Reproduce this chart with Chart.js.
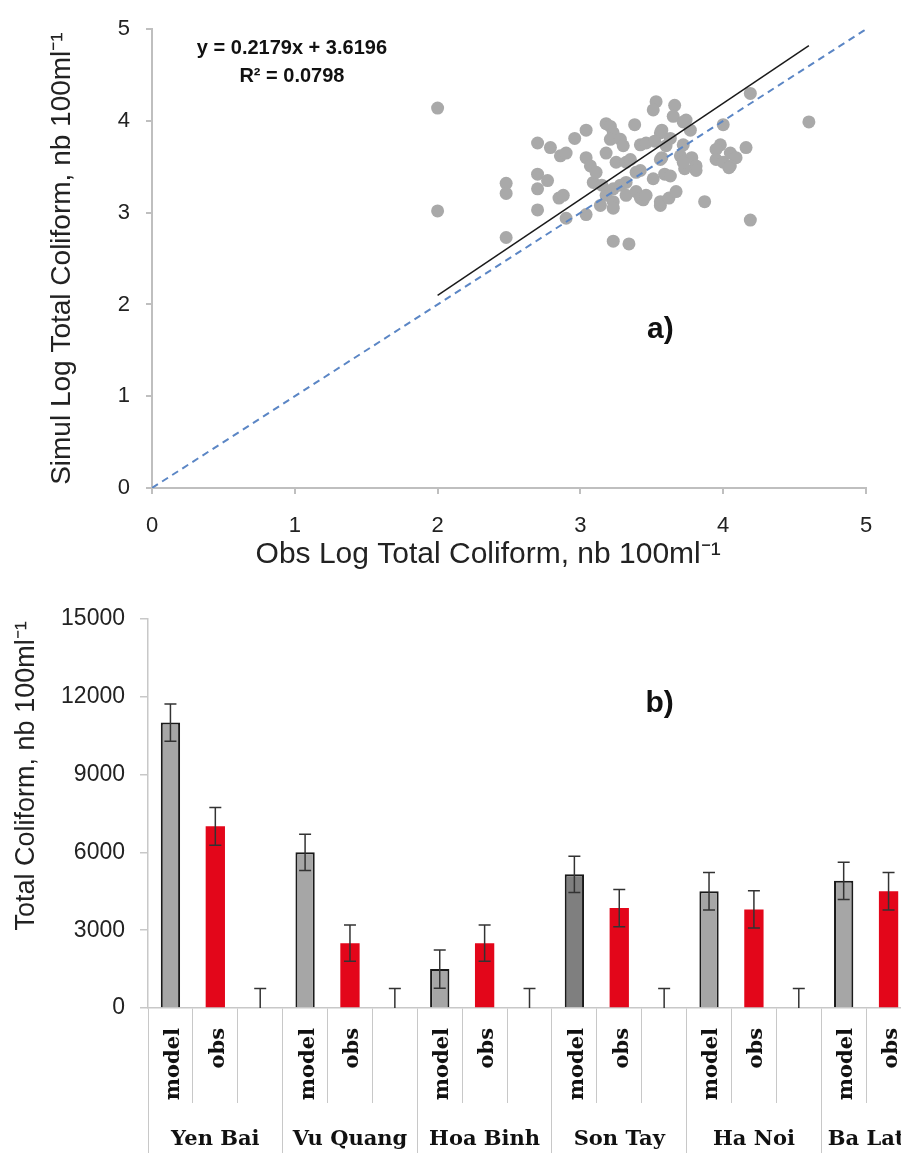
<!DOCTYPE html>
<html>
<head>
<meta charset="utf-8">
<script src="https://cdn.jsdelivr.net/npm/chart.js@4"></script>
<style>
  html, body { margin: 0; padding: 0; background: #fff; overflow: hidden; }
  #top { position: absolute; left: 0; top: 0; width: 901px; height: 596px; }
  #bottom { position: absolute; left: 0; top: 590px; width: 925px; height: 563px; }
</style>
</head>
<body>
<div id="top"><canvas id="scatterChart"></canvas></div>
<div id="bottom"><canvas id="barChart"></canvas></div>
<script>
// a) observed vs simulated log total coliform
var obsLog = [
  2.00, 2.00, 2.48, 2.48, 2.48, 2.70, 2.79, 2.86, 2.90, 2.70,
  2.70, 2.77, 2.70, 2.85, 2.90, 2.88, 2.96, 3.04, 3.04, 3.07,
  3.09, 3.11, 3.18, 3.21, 3.23, 3.18, 3.21, 3.28, 3.30, 3.25,
  3.32, 3.18, 3.23, 3.15, 3.23, 3.04, 3.14, 3.23, 3.23, 3.34,
  3.28, 3.32, 3.53, 3.66, 3.51, 3.65, 3.38, 3.74, 3.57, 3.77,
  3.72, 3.56, 4.19, 4.00, 4.60, 3.42, 3.46, 3.52, 3.60, 3.63,
  3.72, 3.70, 3.78, 3.81, 3.81, 3.73, 3.72, 3.57, 3.56, 3.59,
  3.63, 3.51, 3.42, 3.39, 3.35, 3.32, 3.39, 3.44, 3.42, 3.46,
  3.56, 3.56, 3.62, 3.67, 3.87, 4.19, 3.98, 3.95, 3.95, 4.00,
  4.05, 4.09, 4.05, 4.04, 4.16
];
var simLog = [
  4.14, 3.02, 2.73, 3.32, 3.21, 3.76, 3.71, 3.62, 3.65, 3.42,
  3.26, 3.35, 3.03, 3.16, 2.94, 3.19, 3.81, 3.90, 3.60, 3.51,
  3.33, 3.44, 3.97, 3.94, 3.87, 3.65, 3.80, 3.80, 3.73, 3.55,
  3.55, 3.19, 3.12, 3.30, 3.26, 2.98, 3.08, 3.05, 2.69, 2.66,
  3.30, 3.19, 4.21, 4.17, 4.12, 4.05, 3.96, 4.01, 3.90, 3.90,
  3.99, 3.87, 4.30, 3.96, 3.99, 3.74, 3.76, 3.78, 3.73, 3.81,
  3.74, 3.62, 3.60, 3.51, 3.46, 3.48, 3.55, 3.60, 3.58, 3.42,
  3.40, 3.37, 3.46, 3.44, 3.58, 3.33, 3.23, 3.14, 3.16, 3.19,
  3.08, 3.12, 3.16, 3.23, 3.12, 2.92, 3.74, 3.69, 3.58, 3.55,
  3.65, 3.60, 3.51, 3.49, 3.71
];
var trendX = [2.0, 4.6];
var trendY = [2.1, 4.82];
var oneToOne = [0, 5];

// b) mean total coliform per station
var sites = ["Yen Bai", "Vu Quang", "Hoa Binh", "Son Tay", "Ha Noi", "Ba Lat"];
var modelVals = [11000, 6000, 1500, 5150, 4500, 4900];
var modelErr = [720, 700, 740, 700, 720, 720];
var obsVals = [7000, 2500, 2500, 3850, 3800, 4500];
var obsErr = [730, 700, 700, 720, 720, 720];
var blankErr = [750, 750, 750, 750, 750];
var modelColors = ["#a6a6a6", "#a6a6a6", "#a6a6a6", "#7f7f7f", "#a6a6a6", "#a6a6a6"];

Chart.defaults.font.family = "'Liberation Sans', Arial, sans-serif";
Chart.defaults.color = "#222";
Chart.defaults.animation = false;

// text labels placed in data coordinates
var notes = {
  id: "notes",
  afterDraw(chart, args, opts) {
    var ctx = chart.ctx;
    var xs = chart.scales.x;
    var ys = chart.scales.y;
    ctx.save();
    ctx.fillStyle = "#111";
    ctx.textAlign = "center";
    ctx.textBaseline = "middle";
    (opts.items || []).forEach(function (it) {
      ctx.font = it.font;
      ctx.fillText(it.text, xs.getPixelForValue(it.x), ys.getPixelForValue(it.y));
    });
    ctx.restore();
  }
};

var errorBars = {
  id: "errorBars",
  afterDatasetsDraw(chart) {
    var ctx = chart.ctx, y = chart.scales.y, area = chart.chartArea;
    ctx.save();
    ctx.beginPath();
    ctx.rect(area.left, area.top - 2, area.right - area.left, area.bottom - area.top + 2);
    ctx.clip();
    ctx.strokeStyle = "#333";
    ctx.lineWidth = 1.5;
    chart.data.datasets.forEach(function (ds, i) {
      if (!ds.errors) return;
      chart.getDatasetMeta(i).data.forEach(function (bar, j) {
        var v = ds.data[j], e = ds.errors[j];
        if (v == null || e == null) return;
        var top = y.getPixelForValue(v + e);
        var bot = y.getPixelForValue(v - e);
        ctx.beginPath();
        ctx.moveTo(bar.x, top); ctx.lineTo(bar.x, bot);
        ctx.moveTo(bar.x - 6, top); ctx.lineTo(bar.x + 6, top);
        ctx.moveTo(bar.x - 6, bot); ctx.lineTo(bar.x + 6, bot);
        ctx.stroke();
      });
    });
    ctx.restore();
  }
};

var points = obsLog.map(function (x, i) { return { x: x, y: simLog[i] }; });

new Chart("scatterChart", {
  type: "scatter",
  data: {
    datasets: [
      {
        type: "line",
        data: [{ x: trendX[0], y: trendY[0] }, { x: trendX[1], y: trendY[1] }],
        borderColor: "#1a1a1a",
        borderWidth: 1.5,
        pointRadius: 0,
        fill: false
      },
      {
        type: "line",
        data: [{ x: oneToOne[0], y: oneToOne[0] }, { x: oneToOne[1], y: oneToOne[1] }],
        borderColor: "#5b86c5",
        borderWidth: 2,
        borderDash: [7, 5],
        pointRadius: 0,
        fill: false
      },
      {
        data: points,
        backgroundColor: "#a9a9a9",
        borderWidth: 0,
        pointRadius: 6.5
      }
    ]
  },
  options: {
    responsive: true,
    maintainAspectRatio: false,
    layout: { padding: { top: 21, right: 35, bottom: 0, left: 0 } },
    plugins: {
      legend: { display: false },
      tooltip: { enabled: false },
      notes: {
        items: [
          { x: 0.98, y: 4.79, text: "y = 0.2179x + 3.6196", font: "bold 20px 'Liberation Sans', Arial" },
          { x: 0.98, y: 4.49, text: "R² = 0.0798", font: "bold 20px 'Liberation Sans', Arial" },
          { x: 3.56, y: 1.72, text: "a)", font: "bold 30px 'Liberation Sans', Arial" }
        ]
      }
    },
    scales: {
      x: {
        type: "linear",
        min: 0,
        max: 5,
        afterFit: function (s) { s.height = 108; },
        ticks: { stepSize: 1, font: { size: 22 }, padding: 19 },
        grid: { drawOnChartArea: false, tickLength: 6, color: "#bfbfbf", lineWidth: 2 },
        border: { color: "#bfbfbf", width: 2 },
        title: {
          display: true,
          // trailing spaces nudge the centred title left as in the original
          text: "Obs Log Total Coliform, nb 100ml⁻¹     ",
          font: { size: 30 },
          padding: { top: 0, bottom: 23 }
        }
      },
      y: {
        min: 0,
        max: 5,
        afterFit: function (s) { s.width = 152; },
        ticks: { stepSize: 1, font: { size: 22 }, padding: 16 },
        grid: { drawOnChartArea: false, tickLength: 6, color: "#bfbfbf", lineWidth: 2 },
        border: { color: "#bfbfbf", width: 2 },
        title: {
          display: true,
          text: "Simul Log Total Coliform, nb 100ml⁻¹",
          font: { size: 28 },
          padding: { top: 45, bottom: 0 }
        }
      }
    }
  },
  plugins: [notes]
});

// slot layout: model, obs, empty per station (last station has no empty slot)
var slotLabels = [], modelData = [], obsData = [], blankData = [];
var modelErrData = [], obsErrData = [], blankErrData = [], barColors = [];
var groupCenters = {}, groupEdges = [-0.5];
sites.forEach(function (s, i) {
  var start = slotLabels.length;
  slotLabels.push("model", "obs");
  modelData.push(modelVals[i], null);
  modelErrData.push(modelErr[i], null);
  obsData.push(null, obsVals[i]);
  obsErrData.push(null, obsErr[i]);
  blankData.push(null, null);
  blankErrData.push(null, null);
  barColors.push(modelColors[i], modelColors[i]);
  if (i < sites.length - 1) {
    slotLabels.push("");
    modelData.push(null); modelErrData.push(null);
    obsData.push(null); obsErrData.push(null);
    blankData.push(0); blankErrData.push(blankErr[i]);
    barColors.push(modelColors[i]);
  }
  var end = slotLabels.length - 1;
  groupCenters[(start + end) / 2] = s;
  groupEdges.push(end + 0.5);
});

new Chart("barChart", {
  type: "bar",
  data: {
    labels: slotLabels,
    datasets: [
      {
        data: modelData,
        errors: modelErrData,
        backgroundColor: barColors,
        borderColor: "#1a1a1a",
        borderWidth: 2,
        grouped: false,
        barPercentage: 0.43,
        categoryPercentage: 1
      },
      {
        data: obsData,
        errors: obsErrData,
        backgroundColor: "#e3061a",
        borderWidth: 0,
        grouped: false,
        barPercentage: 0.43,
        categoryPercentage: 1
      },
      {
        data: blankData,
        errors: blankErrData,
        backgroundColor: "rgba(0,0,0,0)",
        borderWidth: 0,
        grouped: false,
        barPercentage: 0.43,
        categoryPercentage: 1
      }
    ]
  },
  options: {
    responsive: true,
    maintainAspectRatio: false,
    layout: { padding: { top: 14, right: 14, bottom: 0, left: 0 } },
    plugins: {
      legend: { display: false },
      tooltip: { enabled: false },
      notes: {
        items: [
          { x: 10.9, y: 11740, text: "b)", font: "bold 30px 'Liberation Sans', Arial" }
        ]
      }
    },
    scales: {
      y: {
        min: 0,
        max: 15000,
        afterFit: function (s) { s.width = 148; },
        ticks: {
          stepSize: 3000,
          font: { size: 23 },
          padding: 15,
          callback: function (v) { return String(v); }
        },
        grid: { drawOnChartArea: false, tickLength: 8, color: "#c8c8c8", lineWidth: 1.5 },
        border: { color: "#c8c8c8", width: 1.5 },
        title: {
          display: true,
          // leading spaces lift the centred title like in the original figure
          text: "          Total Coliform, nb 100ml⁻¹",
          font: { size: 27 },
          padding: { top: 10, bottom: 0 }
        }
      },
      x: {
        afterFit: function (s) { s.height = 95; },
        ticks: {
          autoSkip: false,
          minRotation: 90,
          maxRotation: 90,
          padding: -75,
          labelOffset: 3,
          color: "#111",
          font: { family: "'DejaVu Serif', serif", weight: "bold", size: 21 }
        },
        grid: { offset: true, drawOnChartArea: false, tickLength: 95, color: "#c8c8c8", lineWidth: 1 },
        border: { color: "#c8c8c8", width: 1.5 }
      },
      x2: {
        type: "linear",
        position: "bottom",
        offset: false,
        min: -0.5,
        max: slotLabels.length - 0.5,
        afterFit: function (s) { s.height = 50; },
        afterBuildTicks: function (s) {
          var vals = groupEdges.concat(Object.keys(groupCenters).map(Number));
          vals.sort(function (a, b) { return a - b; });
          s.ticks = vals.map(function (v) { return { value: v }; });
        },
        ticks: {
          autoSkip: false,
          maxRotation: 0,
          padding: -31,
          color: "#111",
          font: { family: "'DejaVu Serif', serif", weight: "bold", size: 21 },
          callback: function (v) { return groupCenters[v] || ""; }
        },
        grid: {
          offset: false,
          drawOnChartArea: false,
          tickLength: 55,
          lineWidth: 1,
          color: function (c) {
            return c.tick && groupEdges.indexOf(c.tick.value) >= 0 ? "#c8c8c8" : "rgba(0,0,0,0)";
          }
        },
        border: { display: false }
      }
    }
  },
  plugins: [errorBars, notes]
});
</script>
</body>
</html>
